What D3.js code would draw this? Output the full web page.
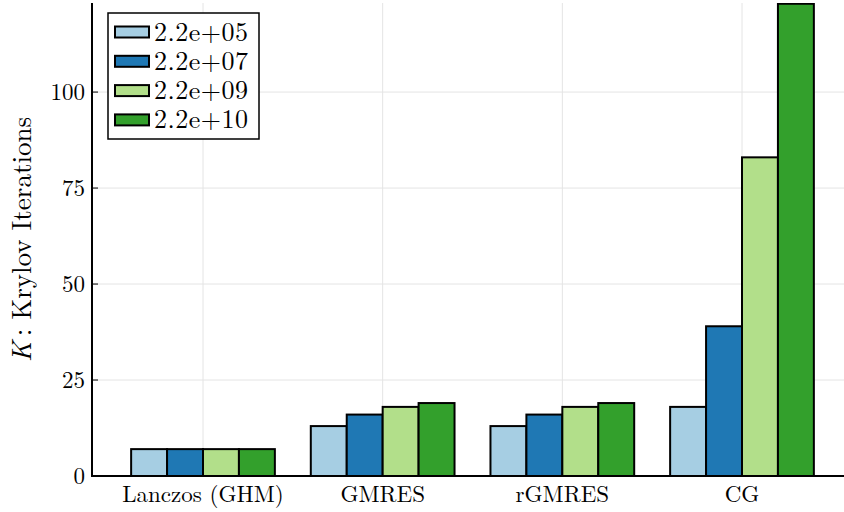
<!DOCTYPE html>
<html lang="en">

<head>
	<meta charset="UTF-8">
	<title>krylov</title>
	<script type="text/javascript" src="https://cdn.jsdelivr.net/npm/d3@7/dist/d3.min.js" charset="UTF-8"></script>
	<style>
		body { margin: 0; background: #fff; }
		text { font-family: "Latin Modern Roman", "Liberation Serif", serif; fill: #000; }
	</style>
</head>

<body>
	<script type="text/javascript">
	let methods = ['Lanczos (GHM)', 'GMRES', 'rGMRES', 'CG']
	let sizes = ['2.2e+05', '2.2e+07', '2.2e+09', '2.2e+10']
	let colors = ['#a6cee3', '#1f78b4', '#b2df8a', '#33a02c']
	let yTicks = [0, 25, 50, 75, 100]

	// iterations per method, one array per size
	let iters = [
		[7, 13, 13, 18],
		[7, 16, 16, 39],
		[7, 18, 18, 83],
		[7, 19, 19, 123]
	]

	let width = 844,
		height = 512;
	let plot = { left: 92, right: 844, top: 3, bottom: 476 }

	let svg = d3.select('body').append('svg')
		.attr('width', width)
		.attr('height', height)

	let xScale = d3.scaleLinear()
		.domain([0.5, 3.5])
		.range([203, 742])

	let yScale = d3.scaleLinear()
		.domain([0, 123.2])
		.range([plot.bottom, plot.top])

	svg.append('clipPath').attr('id', 'clip')
		.append('rect')
		.attr('x', plot.left)
		.attr('y', plot.top)
		.attr('width', plot.right - plot.left)
		.attr('height', plot.bottom - plot.top)

	// grid
	svg.selectAll('.hgrid')
		.data(yTicks)
		.enter()
		.append('line')
		.attr('x1', plot.left)
		.attr('x2', plot.right)
		.attr('y1', d => yScale(d))
		.attr('y2', d => yScale(d))
		.attr('stroke', '#e4e4e4')
		.attr('stroke-width', 1)

	svg.selectAll('.vgrid')
		.data(methods)
		.enter()
		.append('line')
		.attr('x1', (d, i) => xScale(i + 0.5))
		.attr('x2', (d, i) => xScale(i + 0.5))
		.attr('y1', plot.top)
		.attr('y2', plot.bottom)
		.attr('stroke', '#e4e4e4')
		.attr('stroke-width', 1)

	// bars
	let barW = 0.2
	let bars = svg.append('g').attr('clip-path', 'url(#clip)')
	iters.forEach((series, s) => {
		bars.selectAll('.bar' + s)
			.data(series)
			.enter()
			.append('rect')
			.attr('x', (d, i) => xScale(i + 0.5 - 0.4 + s * barW))
			.attr('y', d => yScale(d))
			.attr('width', xScale(barW) - xScale(0))
			.attr('height', d => yScale(0) - yScale(d))
			.attr('fill', colors[s])
			.attr('stroke', '#000')
			.attr('stroke-width', 2)
	})

	// axes
	svg.append('line')
		.attr('x1', plot.left).attr('x2', plot.left)
		.attr('y1', plot.top).attr('y2', plot.bottom)
		.attr('stroke', '#000').attr('stroke-width', 2)
	svg.append('line')
		.attr('x1', plot.left - 1).attr('x2', plot.right)
		.attr('y1', plot.bottom).attr('y2', plot.bottom)
		.attr('stroke', '#000').attr('stroke-width', 2)

	svg.selectAll('.ytick')
		.data(yTicks)
		.enter()
		.append('line')
		.attr('x1', plot.left)
		.attr('x2', plot.left + 6)
		.attr('y1', d => yScale(d))
		.attr('y2', d => yScale(d))
		.attr('stroke', '#000')
		.attr('stroke-width', 1)

	svg.selectAll('.ylab')
		.data(yTicks)
		.enter()
		.append('text')
		.attr('x', plot.left - 7)
		.attr('y', d => yScale(d) + 7.5)
		.attr('text-anchor', 'end')
		.attr('font-size', 23)
		.text(d => d)

	svg.selectAll('.xlab')
		.data(methods)
		.enter()
		.append('text')
		.attr('x', (d, i) => xScale(i + 0.5))
		.attr('y', 502)
		.attr('text-anchor', 'middle')
		.attr('font-size', 23)
		.text(d => d)

	let ylabel = svg.append('text')
		.attr('transform', 'translate(31,' + ((plot.top + plot.bottom) / 2) + ') rotate(-90)')
		.attr('text-anchor', 'middle')
		.attr('font-size', 27)
	ylabel.append('tspan').attr('font-style', 'italic').text('K')
	ylabel.append('tspan').attr('dx', 5).text(':')
	ylabel.append('tspan').attr('dx', 9).text('Krylov Iterations')

	// legend
	let legend = svg.append('g')
	legend.append('rect')
		.attr('x', 108)
		.attr('y', 13)
		.attr('width', 151)
		.attr('height', 126)
		.attr('fill', '#fff')
		.attr('stroke', '#000')
		.attr('stroke-width', 1.5)

	let rows = legend.selectAll('.row')
		.data(sizes)
		.enter()
		.append('g')
		.attr('transform', (d, i) => 'translate(0,' + (32 + i * 29.3) + ')')
	rows.append('rect')
		.attr('x', 115)
		.attr('y', -5.5)
		.attr('width', 34)
		.attr('height', 11)
		.attr('fill', (d, i) => colors[i])
		.attr('stroke', '#000')
		.attr('stroke-width', 2)
	rows.append('text')
		.attr('x', 154)
		.attr('y', 8.5)
		.attr('font-size', 26)
		.attr('textLength', 94)
		.text(d => d)
	</script>
</body>

</html>
